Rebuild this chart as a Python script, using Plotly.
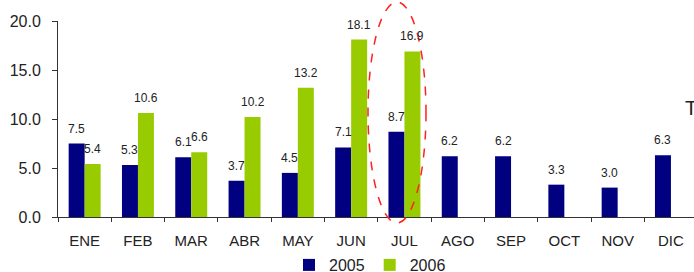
import plotly.graph_objects as go

months = ["ENE", "FEB", "MAR", "ABR", "MAY", "JUN", "JUL", "AGO", "SEP", "OCT", "NOV", "DIC"]
v2005 = [7.5, 5.3, 6.1, 3.7, 4.5, 7.1, 8.7, 6.2, 6.2, 3.3, 3.0, 6.3]
v2006 = [5.4, 10.6, 6.6, 10.2, 13.2, 18.1, 16.9, None, None, None, None, None]
y_ticks = [0, 5, 10, 15, 20]

W, H = 694, 272
ML, MR, MT, MB = 58, 0, 21, 55
pw, ph = W - ML - MR, H - MT - MB
cat_w = 53.3
xmax = pw / cat_w - 0.5

def px_x(p):
    return (p - ML) / pw

def px_y(p):
    return (H - MB - p) / ph

font = "Liberation Sans, Arial, sans-serif"
navy = "#000080"
green = "#99CC00"

fig = go.Figure()
fig.add_trace(go.Bar(x=months, y=v2005, name="2005", marker_color=navy, marker_line_width=0))
fig.add_trace(go.Bar(x=months, y=v2006, name="2006", marker_color=green, marker_line_width=0))

annotations = []
for i, m in enumerate(months):
    for vals, shift in ((v2005, -8), (v2006, 8)):
        v = vals[i]
        if v is None:
            continue
        annotations.append(dict(x=m, y=v, xref="x", yref="y", text=f"{v:.1f}",
                                showarrow=False, yanchor="bottom", yshift=6, xshift=shift,
                                font=dict(family=font, size=12, color="#222")))
annotations.append(dict(x=px_x(683), y=px_y(108), xref="paper", yref="paper", text="T",
                        showarrow=False, xanchor="left", yanchor="middle",
                        font=dict(family=font, size=20, color="#222")))

fig.update_layout(
    width=W, height=H,
    margin=dict(l=ML, r=MR, t=MT, b=MB, autoexpand=False),
    paper_bgcolor="white", plot_bgcolor="white",
    barmode="group", bargap=0.4, bargroupgap=0,
    font=dict(family=font, color="#222"),
    annotations=annotations,
    legend=dict(orientation="h", x=px_x(370), xanchor="center", y=px_y(265), yanchor="middle",
                font=dict(family=font, size=16, color="#222"), itemwidth=30,
                bgcolor="rgba(0,0,0,0)"),
    shapes=[dict(type="circle", xref="paper", yref="paper",
                 x0=px_x(368), x1=px_x(426), y0=px_y(223), y1=px_y(2),
                 line=dict(color="#FF2020", width=1.5, dash="dash"))],
)
fig.update_xaxes(range=[-0.5, xmax], showline=True, linecolor="#333", linewidth=1,
                 ticks="outside", tickson="boundaries", ticklen=4, tickcolor="#333",
                 tickfont=dict(family=font, size=15, color="#222"), ticklabelstandoff=10,
                 showgrid=False, fixedrange=True)
fig.update_yaxes(range=[0, 20], tickvals=y_ticks, tickformat=".1f", showline=True,
                 linecolor="#333", linewidth=1, ticks="outside", ticklen=5, tickcolor="#333",
                 tickfont=dict(family=font, size=16, color="#222"), ticklabelstandoff=8,
                 showgrid=False, zeroline=False)

fig.write_html("out.html", config={"displayModeBar": False},
               post_script="document.body.style.margin='0';document.body.style.overflow='hidden';")
